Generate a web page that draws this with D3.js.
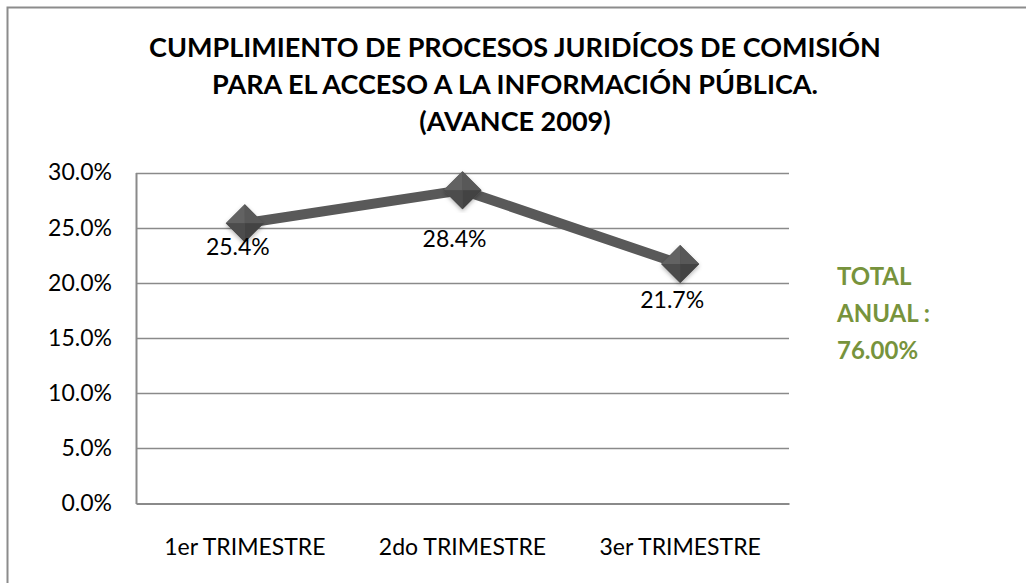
<!DOCTYPE html>
<html>
<head>
<meta charset="utf-8">
<script src="https://cdn.jsdelivr.net/npm/d3@7.9.0/dist/d3.min.js"></script>
<style>
  html, body { margin: 0; padding: 0; background: #fff; }
  svg { display: block; font-family: Lato, "Open Sans", sans-serif; }
</style>
</head>
<body>
<svg id="chart" width="1026" height="583"></svg>
<script>
// --- DATA ---
const categories = ['1er TRIMESTRE', '2do TRIMESTRE', '3er TRIMESTRE'];
const avance = [0.254, 0.284, 0.217];
const yTicks = [0, 0.05, 0.10, 0.15, 0.20, 0.25, 0.30];
const titleLines = [
  'CUMPLIMIENTO DE PROCESOS JURIDÍCOS DE COMISIÓN',
  'PARA EL ACCESO A LA INFORMACIÓN PÚBLICA.',
  '(AVANCE 2009)'
];
const totalLines = ['TOTAL', 'ANUAL :', '76.00%'];

// --- LAYOUT ---
const svg = d3.select('#chart');
const plot = { left: 136, right: 789, top: 172.5, bottom: 503.5 };

// outer frame (only top/left edges show inside the picture)
svg.append('rect')
  .attr('x', 7.5).attr('y', 7.5)
  .attr('width', 1040).attr('height', 600)
  .attr('fill', 'none').attr('stroke', '#8c8c8c').attr('stroke-width', 2);

// title
svg.append('g').selectAll('text')
  .data(titleLines)
  .join('text')
  .attr('x', 515)
  .attr('y', (d, i) => 57 + i * 37)
  .attr('text-anchor', 'middle')
  .attr('font-size', 27)
  .attr('font-weight', 'bold')
  .attr('fill', '#000')
  .text(d => d);

// scales
const x = d3.scaleBand().domain(categories).range([plot.left, plot.right]);
const y = d3.scaleLinear().domain([0, 0.30]).range([plot.bottom, plot.top]);

// gridlines
svg.append('g').selectAll('line')
  .data(yTicks.filter(d => d > 0))
  .join('line')
  .attr('x1', plot.left).attr('x2', plot.right)
  .attr('y1', d => Math.round(y(d)) + 0.5).attr('y2', d => Math.round(y(d)) + 0.5)
  .attr('stroke', '#8a8a8a').attr('stroke-width', 1.5);

// axes
const yAxis = svg.append('g')
  .attr('transform', `translate(${plot.left},0)`)
  .call(d3.axisLeft(y).tickValues(yTicks).tickFormat(d3.format('.1%')).tickSize(0).tickPadding(24));
yAxis.select('.domain').attr('stroke', '#8a8a8a').attr('stroke-width', 2);
yAxis.selectAll('text').attr('font-size', 23).attr('fill', '#000').attr('font-family', 'Lato, sans-serif');

const xAxis = svg.append('g')
  .attr('transform', `translate(0,${plot.bottom})`)
  .call(d3.axisBottom(x).tickSize(0).tickPadding(35));
xAxis.select('.domain').attr('stroke', '#8a8a8a').attr('stroke-width', 2);
xAxis.selectAll('text').attr('font-size', 23).attr('fill', '#000').attr('font-family', 'Lato, sans-serif');

// line
const pts = categories.map((c, i) => [x(c) + x.bandwidth() / 2, y(avance[i])]);
svg.append('path')
  .attr('d', d3.line()(pts))
  .attr('fill', 'none')
  .attr('stroke', '#595959')
  .attr('stroke-width', 10)
  .attr('stroke-linejoin', 'round');

// markers: bevelled diamonds
const defs = svg.append('defs');
defs.append('filter').attr('id', 'shadow')
  .append('feDropShadow').attr('dx', 0).attr('dy', 2).attr('stdDeviation', 2)
  .attr('flood-color', '#000').attr('flood-opacity', 0.3);

const r = 19;
const markers = svg.append('g').selectAll('g')
  .data(pts)
  .join('g')
  .attr('transform', d => `translate(${d[0]},${d[1]})`);
markers.append('path')
  .attr('d', `M0,${-r}L${r},0L0,${r}L${-r},0Z`)
  .attr('fill', '#4f4f4f')
  .attr('filter', 'url(#shadow)');
const facets = [
  { d: `M0,0L${-r},0L0,${-r}Z`, fill: '#626262' },
  { d: `M0,0L0,${-r}L${r},0Z`, fill: '#585858' },
  { d: `M0,0L${r},0L0,${r}Z`, fill: '#434343' },
  { d: `M0,0L0,${r}L${-r},0Z`, fill: '#4c4c4c' }
];
markers.selectAll('path.facet')
  .data(facets)
  .join('path')
  .attr('class', 'facet')
  .attr('d', f => f.d)
  .attr('fill', f => f.fill);

// data labels (Excel placed them slightly differently for each point)
const labelNudge = [[-7, 32], [-8, 57], [-8, 44]];
svg.append('g').selectAll('text')
  .data(pts)
  .join('text')
  .attr('x', (d, i) => d[0] + labelNudge[i][0])
  .attr('y', (d, i) => d[1] + labelNudge[i][1])
  .attr('text-anchor', 'middle')
  .attr('font-size', 23)
  .attr('fill', '#000')
  .text((d, i) => d3.format('.1%')(avance[i]));

// total annual note
svg.append('g').selectAll('text')
  .data(totalLines)
  .join('text')
  .attr('x', 837)
  .attr('y', (d, i) => 285 + i * 37)
  .attr('font-size', 24)
  .attr('font-weight', 'bold')
  .attr('fill', '#77933c')
  .text(d => d);
</script>
</body>
</html>
